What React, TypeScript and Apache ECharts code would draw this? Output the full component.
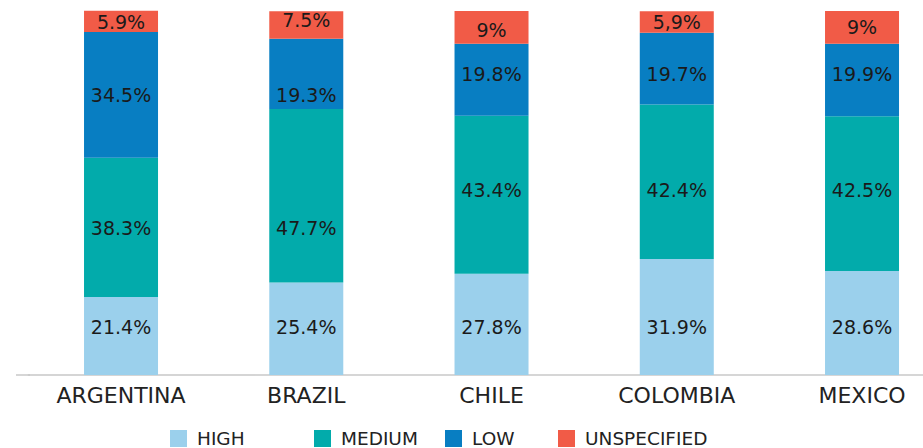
import React, { useEffect, useRef } from "react";
import * as echarts from "echarts";

const categories = ["ARGENTINA", "BRAZIL", "CHILE", "COLOMBIA", "MEXICO"];
const high = [21.4, 25.4, 27.8, 31.9, 28.6];
const medium = [38.3, 47.7, 43.4, 42.4, 42.5];
const low = [34.5, 19.3, 19.8, 19.7, 19.9];
const unspecified = [5.9, 7.5, 9, 5.9, 9];
const unspecifiedLabels = ["5.9%", "7.5%", "9%", "5,9%", "9%"];
const seriesNames = ["HIGH", "MEDIUM", "LOW", "UNSPECIFIED"];
const colors = ["#9BD0EC", "#02ABAB", "#087EC2", "#F15B47"];
const legendLeft = [170, 314, 445, 558];

// layout: where the reference places each data label (pixel row, per series per category)
const LABEL_ROW_Y = [
  [327, 327, 327, 327, 327],
  [228, 228, 190, 190, 190],
  [95, 95, 74, 74, 74],
  [22, 20, 30, 22, 27],
];

const FONT = "DejaVu Sans";

export default function App() {
  const ref = useRef<HTMLDivElement>(null);
  useEffect(() => {
    if (!ref.current) return;
    const chart = echarts.init(ref.current, undefined, { renderer: "svg" });
    const datas = [high, medium, low, unspecified];
    const makeSeries = (offsets?: number[][]) =>
      datas.map((d, i) => ({
        name: seriesNames[i],
        type: "bar",
        stack: "total",
        barWidth: 74,
        clip: false,
        data: d.map((v, j) => ({
          value: v,
          label: offsets ? { offset: [0, offsets[i][j]] } : undefined,
        })),
        label: {
          show: true,
          position: "inside",
          color: "#1a1a1a",
          fontFamily: FONT,
          fontSize: 19,
          formatter:
            i === 3
              ? (p: any) => unspecifiedLabels[p.dataIndex]
              : (p: any) => `${p.value}%`,
        },
      }));
    chart.setOption({
      animation: false,
      color: colors,
      grid: { left: 28.4, right: 5.35, top: 11, bottom: 73, containLabel: false },
      legend: seriesNames.map((n, i) => ({
        data: [n],
        left: legendLeft[i],
        top: 429,
        padding: 0,
        icon: "rect",
        itemWidth: 17,
        itemHeight: 17,
        textStyle: {
          fontFamily: FONT,
          fontSize: 18.5,
          lineHeight: 16,
          color: "#222",
          padding: [0, 0, 0, 5],
        },
        selectedMode: false,
      })),
      xAxis: {
        type: "category",
        data: categories,
        axisLine: { show: true, lineStyle: { color: "#c8c8c8", width: 1.5 } },
        axisTick: { show: false },
        axisLabel: { fontFamily: FONT, fontSize: 22, color: "#222", margin: 9 },
      },
      yAxis: {
        type: "value",
        min: 0,
        max: 100,
        show: false,
        splitLine: { show: false },
      },
      graphic: [
        {
          type: "line",
          shape: { x1: 16, y1: 375, x2: 30, y2: 375 },
          style: { stroke: "#c8c8c8", lineWidth: 1.5 },
        },
      ],
      series: makeSeries(),
    });
    // shift labels to the reference's label rows
    const offsets = datas.map((d, i) =>
      d.map((v, j) => {
        let below = 0;
        for (let k = 0; k < i; k++) below += datas[k][j];
        const natural = chart.convertToPixel({ yAxisIndex: 0 }, below + v / 2) as number;
        return LABEL_ROW_Y[i][j] - natural;
      })
    );
    chart.setOption({ series: makeSeries(offsets) });
    return () => chart.dispose();
  }, []);
  return (
    <div style={{ position: "absolute", left: 0, top: 0, width: 923, height: 448, overflow: "hidden" }}>
      <div ref={ref} style={{ width: 960, height: 448 }} />
    </div>
  );
}
